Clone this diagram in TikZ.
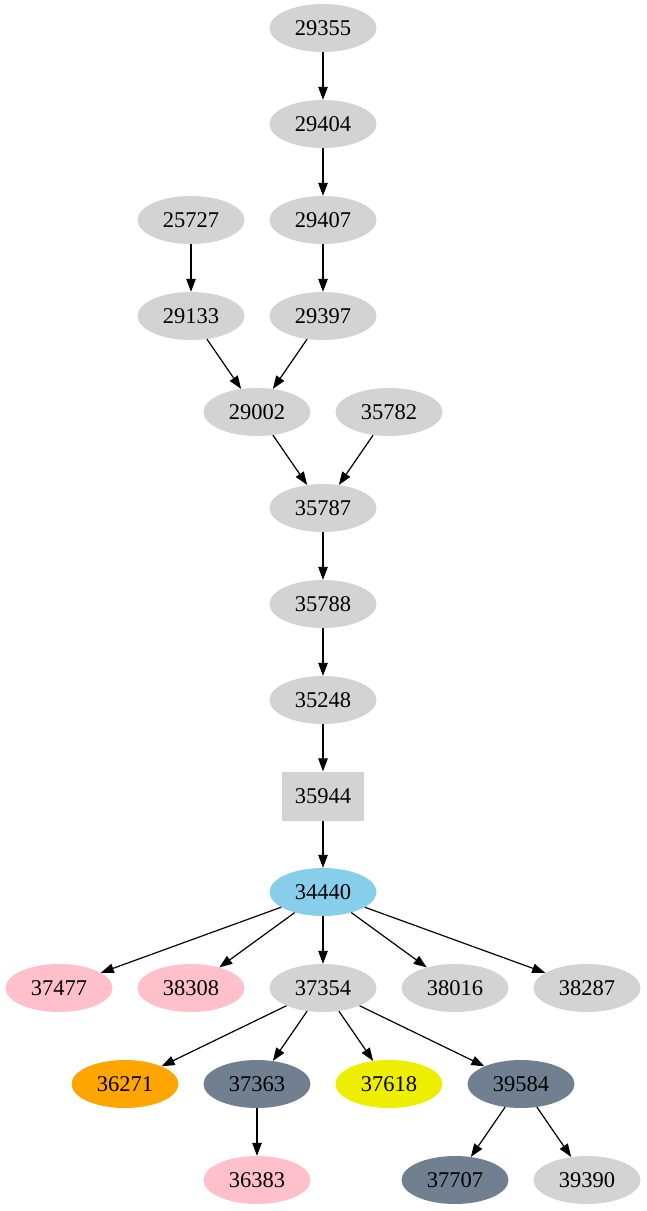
\documentclass[tikz,border=0pt]{standalone}
\usepackage{fontspec}
\setmainfont{Liberation Serif}
\usetikzlibrary{shapes.geometric, arrows.meta, positioning}

\definecolor{gvgray}{HTML}{D3D3D3}
\definecolor{gvpink}{HTML}{FFC0CB}
\definecolor{gvsky}{HTML}{87CEEB}
\definecolor{gvorange}{HTML}{FFA500}
\definecolor{gvslate}{HTML}{708090}
\definecolor{gvyellow}{HTML}{EEEE00}

\begin{document}
\begin{tikzpicture}[
    x=1pt, y=-1pt,
    on grid,
    node distance=96pt and 132pt,
    oval/.style={ellipse, fill=gvgray, minimum width=107pt, minimum height=48pt, inner sep=0pt, font=\fontsize{22.5}{26}\selectfont},
    boxnode/.style={rectangle, fill=gvgray, minimum width=82pt, minimum height=49pt, inner sep=0pt, font=\fontsize{22.5}{26}\selectfont},
    arrow/.style={-{Triangle[length=13pt, width=9.5pt]}, line width=1.2pt}
]
\useasboundingbox (0,0) rectangle (646,1211);

% Nodes
\node[oval] (n29355) at (323,28) {29355};
\node[oval, below=of n29355] (n29404) {29404};
\node[oval, below=of n29404] (n29407) {29407};
\node[oval, left=of n29407] (n25727) {25727};
\node[oval, below=of n25727] (n29133) {29133};
\node[oval, below=of n29407] (n29397) {29397};
\node[oval, below right=96pt and 66pt of n29133] (n29002) {29002};
\node[oval, right=of n29002] (n35782) {35782};
\node[oval, below right=96pt and 66pt of n29002] (n35787) {35787};
\node[oval, below=of n35787] (n35788) {35788};
\node[oval, below=of n35788] (n35248) {35248};
\node[boxnode, below=of n35248] (n35944) {35944};
\node[oval, below=of n35944, fill=gvsky] (n34440) {34440};
\node[oval, below=of n34440] (n37354) {37354};
\node[oval, left=of n37354, fill=gvpink] (n38308) {38308};
\node[oval, left=of n38308, fill=gvpink] (n37477) {37477};
\node[oval, right=of n37354] (n38016) {38016};
\node[oval, right=of n38016] (n38287) {38287};
\node[oval, below left=96pt and 66pt of n37354, fill=gvslate] (n37363) {37363};
\node[oval, left=of n37363, fill=gvorange] (n36271) {36271};
\node[oval, right=of n37363, fill=gvyellow] (n37618) {37618};
\node[oval, right=of n37618, fill=gvslate] (n39584) {39584};
\node[oval, below=of n37363, fill=gvpink] (n36383) {36383};
\node[oval, below left=96pt and 66pt of n39584, fill=gvslate] (n37707) {37707};
\node[oval, below right=96pt and 66pt of n39584] (n39390) {39390};

% Arrows
\draw[arrow] (n29355) -- (n29404);
\draw[arrow] (n29404) -- (n29407);
\draw[arrow] (n29407) -- (n29397);
\draw[arrow] (n25727) -- (n29133);
\draw[arrow] (n29133) -- (n29002);
\draw[arrow] (n29397) -- (n29002);
\draw[arrow] (n29002) -- (n35787);
\draw[arrow] (n35782) -- (n35787);
\draw[arrow] (n35787) -- (n35788);
\draw[arrow] (n35788) -- (n35248);
\draw[arrow] (n35248) -- (n35944);
\draw[arrow] (n35944) -- (n34440);
\draw[arrow] (n34440) -- (n37477);
\draw[arrow] (n34440) -- (n38308);
\draw[arrow] (n34440) -- (n37354);
\draw[arrow] (n34440) -- (n38016);
\draw[arrow] (n34440) -- (n38287);
\draw[arrow] (n37354) -- (n36271);
\draw[arrow] (n37354) -- (n37363);
\draw[arrow] (n37354) -- (n37618);
\draw[arrow] (n37354) -- (n39584);
\draw[arrow] (n37363) -- (n36383);
\draw[arrow] (n39584) -- (n37707);
\draw[arrow] (n39584) -- (n39390);

\end{tikzpicture}
\end{document}
